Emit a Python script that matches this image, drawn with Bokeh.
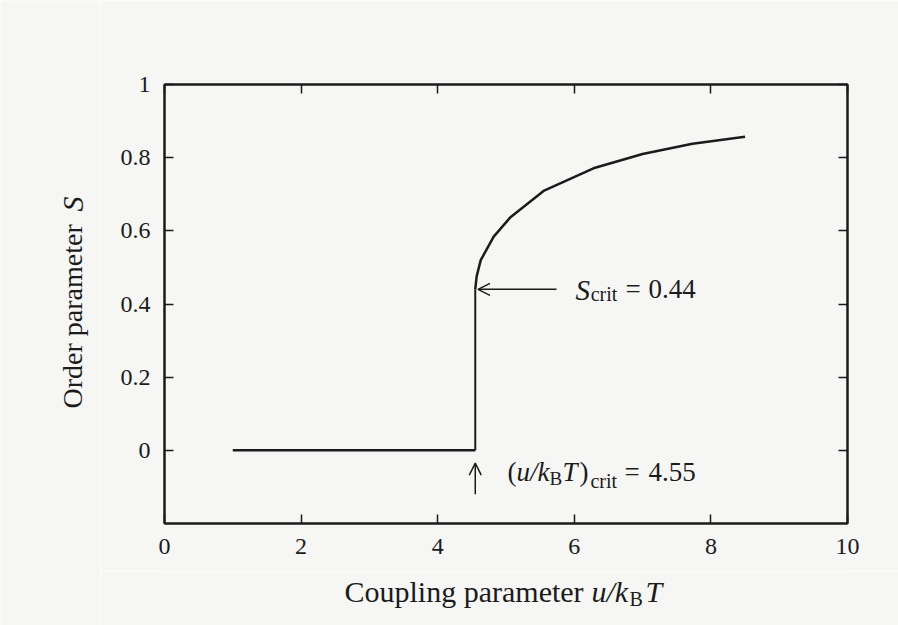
import math
from bokeh.plotting import figure
from bokeh.layouts import row, column
from bokeh.models import (Range1d, FixedTicker, LinearAxis, Label, Arrow, OpenHead)
from bokeh.core.properties import value
from bokeh.embed import file_html
from bokeh.resources import INLINE

# ---- data ----
flat_x = [1.0, 4.55]
flat_y = [0.0, 0.0]
jump_x = [4.55, 4.55]
jump_y = [0.0, 0.44]
curve_x = [4.55, 4.57, 4.63, 4.82, 5.07, 5.55, 6.28, 7.00, 7.73, 8.50]
curve_y = [0.44, 0.475, 0.52, 0.584, 0.638, 0.709, 0.771, 0.810, 0.838, 0.857]

x_ticks = [0, 2, 4, 6, 8, 10]
y_ticks = [0, 0.2, 0.4, 0.6, 0.8, 1]
y_tick_labels = ["0", "0.2", "0.4", "0.6", "0.8", "1"]

s_crit = 0.44
u_crit = 4.55

FONT = "Liberation Serif"
INK = "#1b1b1b"
BG = "#f6f6f4"

W, H = 898, 625
LEFT_W = 100
MAIN_H = 571
FL, FR, FT, FB = 64, 51, 84, 48          # borders of the main plot
FW = W - LEFT_W - FL - FR                # 683
FH = MAIN_H - FT - FB                    # 439

p = figure(frame_width=FW, frame_height=FH, output_backend="svg", toolbar_location=None,
           x_range=Range1d(0, 10), y_range=Range1d(-0.2, 1.0),
           min_border_left=FL, min_border_right=FR, min_border_top=FT,
           min_border_bottom=FB)
p.background_fill_color = BG
p.border_fill_color = BG
p.outline_line_color = INK
p.outline_line_width = 2
p.xgrid.visible = False
p.ygrid.visible = False

def style_axis(ax, show_labels):
    ax.axis_line_color = INK
    ax.axis_line_width = 2
    ax.major_tick_line_color = INK
    ax.major_tick_line_width = 1.5
    ax.major_tick_in = 9
    ax.major_tick_out = 0
    ax.minor_tick_line_color = None
    ax.major_label_text_font = FONT
    ax.major_label_text_font_size = "24px"
    ax.major_label_text_color = INK if show_labels else None

p.xaxis.ticker = FixedTicker(ticks=x_ticks)
p.yaxis.ticker = FixedTicker(ticks=y_ticks)
p.yaxis.major_label_overrides = {t: l for t, l in zip(y_ticks, y_tick_labels)}
style_axis(p.xaxis[0], True)
style_axis(p.yaxis[0], True)
p.xaxis.major_label_standoff = 15
p.yaxis.major_label_standoff = 14

top = LinearAxis(ticker=FixedTicker(ticks=x_ticks),
                 major_label_overrides={t: "" for t in x_ticks})
right = LinearAxis(ticker=FixedTicker(ticks=y_ticks),
                   major_label_overrides={t: "" for t in y_ticks})
style_axis(top, False)
style_axis(right, False)
p.add_layout(top, "above")
p.add_layout(right, "right")

# ---- curve ----
p.line(flat_x, flat_y, line_color=INK, line_width=2.5)
p.line(jump_x, jump_y, line_color=INK, line_width=2.0)
p.line(curve_x, curve_y, line_color=INK, line_width=2.5, line_join="round")

# ---- arrows ----
p.add_layout(Arrow(end=OpenHead(size=12, line_width=1.5, line_color=INK),
                   x_start=5.74, y_start=s_crit, x_end=u_crit + 0.04, y_end=s_crit,
                   line_width=1.5, line_color=INK))
p.add_layout(Arrow(end=OpenHead(size=12, line_width=1.5, line_color=INK),
                   x_start=u_crit, y_start=-0.12, x_end=u_crit, y_end=-0.035,
                   line_width=1.5, line_color=INK))

def lab(x, y, text, size="27px", style="normal"):
    p.add_layout(Label(x=x, y=y, text=text, text_font=FONT, text_font_size=size,
                       text_font_style=style, text_color=INK, text_align="left",
                       text_baseline="alphabetic"))

# S_crit = 0.44
lab(6.018, 0.437, "S", "29px", "italic")
lab(6.24, 0.426, "crit", "20px")
lab(6.75, 0.44, "=", "27px")
lab(7.086, 0.44, "0.44", "27px")

# (u/kBT)crit = 4.55
yb = -0.06
lab(5.022, yb, "(", "27px")
lab(5.154, yb, "u/k", "27px", "italic")
lab(5.637, yb - 0.017, "B", "19px")
lab(5.827, yb, "T", "27px", "italic")
lab(6.076, yb, ")", "27px")
lab(6.237, yb - 0.025, "crit", "20px")
lab(6.735, yb, "=", "27px")
lab(7.086, yb, "4.55", "27px")

# ---- left strip holding the rotated y-axis title (canvas-pixel coordinates) ----
pl = figure(frame_width=LEFT_W, frame_height=H, output_backend="svg", toolbar_location=None,
            x_range=Range1d(0, LEFT_W), y_range=Range1d(0, H),
            x_axis_location=None, y_axis_location=None,
            min_border_left=0, min_border_right=0, min_border_top=0, min_border_bottom=0)
pl.background_fill_color = BG
pl.border_fill_color = BG
pl.outline_line_color = None
pl.xgrid.visible = False
pl.ygrid.visible = False
pl.text(x=[72], y=[H - 408], text=["Order parameter"], angle=math.pi / 2,
        text_font=value(FONT), text_font_size="28px", text_color=INK,
        text_align="left", text_baseline="alphabetic")
pl.text(x=[72], y=[H - 211], text=["S"], angle=math.pi / 2,
        text_font=value(FONT), text_font_size="30px", text_font_style="italic",
        text_color=INK, text_align="left", text_baseline="alphabetic")

# ---- bottom strip holding the x-axis title (canvas-pixel coordinates) ----
BH = H - MAIN_H
pb = figure(frame_width=FW, frame_height=BH, output_backend="svg", toolbar_location=None,
            x_range=Range1d(LEFT_W + FL, W - FR), y_range=Range1d(0, BH),
            x_axis_location=None, y_axis_location=None,
            min_border_left=FL, min_border_right=FR, min_border_top=0, min_border_bottom=0)
pb.background_fill_color = BG
pb.border_fill_color = BG
pb.outline_line_color = None
pb.xgrid.visible = False
pb.ygrid.visible = False
base = H - 591
pb.text(x=[344], y=[base], text=["Coupling parameter"], text_font=value(FONT),
        text_font_size="30px", text_color=INK, text_align="left",
        text_baseline="alphabetic")
pb.text(x=[591], y=[base], text=["u/k"], text_font=value(FONT),
        text_font_size="30px", text_font_style="italic", text_color=INK,
        text_align="left", text_baseline="alphabetic")
pb.text(x=[629], y=[base - 7], text=["B"], text_font=value(FONT),
        text_font_size="20px", text_color=INK, text_align="left",
        text_baseline="alphabetic")
pb.text(x=[645], y=[base], text=["T"], text_font=value(FONT),
        text_font_size="30px", text_font_style="italic", text_color=INK,
        text_align="left", text_baseline="alphabetic")

layout = row(pl, column(p, pb, spacing=0), spacing=0)
open("out.html", "w").write(file_html(layout, INLINE))
